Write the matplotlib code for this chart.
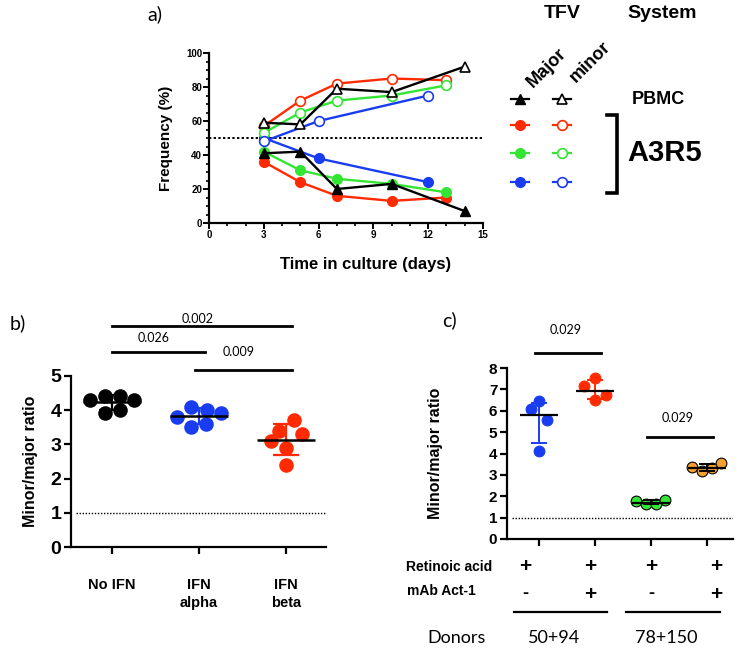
import numpy as np
import matplotlib
matplotlib.use("Agg")
import matplotlib.pyplot as plt
from matplotlib.ticker import MultipleLocator
from matplotlib.transforms import blended_transform_factory

plt.rcParams['font.family'] = ['Liberation Sans', 'DejaVu Sans']

# ---- panel a: frequency of major / minor TFV over time
days_black = [3, 5, 7, 10, 14]
black_major = [41, 42, 20, 23, 7]
black_minor = [59, 58, 79, 77, 92]
days_red = [3, 5, 7, 10, 13]
red_major = [36, 24, 16, 13, 15]
red_minor = [57, 72, 82, 85, 84]
days_green = [3, 5, 7, 10, 13]
green_major = [42, 31, 26, 23, 18]
green_minor = [53, 65, 72, 75, 81]
days_blue = [3, 6, 12]
blue_major = [50, 38, 24]
blue_minor = [48, 60, 75]

# ---- panel b: IFN treatment
ifn_groups = ["No IFN", "IFN\nalpha", "IFN\nbeta"]
no_ifn = [4.30, 4.42, 4.42, 4.30, 3.91, 4.01]
ifn_alpha = [3.81, 4.10, 4.01, 3.91, 3.50, 3.60]
ifn_beta = [3.10, 3.39, 3.71, 3.30, 2.89, 2.40]
p_b = ["0.002", "0.026", "0.009"]

# ---- panel c: retinoic acid / Act-1
c_blue = [6.07, 6.46, 5.56, 4.12]
c_red = [7.14, 7.53, 6.72, 6.48]
c_green = [1.76, 1.64, 1.64, 1.84]
c_orange = [3.35, 3.16, 3.32, 3.55]
retinoic = ["+", "+", "+", "+"]
act1 = ["-", "+", "-", "+"]
donors = ["50+94", "78+150"]
p_c = ["0.029", "0.029"]

RED = "#ff2a00"
GREEN = "#33e633"
BLUE = "#1a3cf0"
ORANGE = "#f5a030"

fig = plt.figure(figsize=(7.41, 6.48), dpi=100)
W, H = 741, 648


def px_axes(l, t, r, b):
    return fig.add_axes([l / W, 1 - b / H, (r - l) / W, (b - t) / H])


def prism_style(ax, fs):
    for s in ["top", "right"]:
        ax.spines[s].set_visible(False)
    for s in ["left", "bottom"]:
        ax.spines[s].set_linewidth(1.6)
    ax.tick_params(width=1.6, length=5, labelsize=fs)
    for lab in ax.get_yticklabels() + ax.get_xticklabels():
        lab.set_fontweight("bold")


# ================= panel a
ax_a = px_axes(209, 53, 483, 223)
series = [
    (days_red, red_major, red_minor, RED, "o"),
    (days_green, green_major, green_minor, GREEN, "o"),
    (days_blue, blue_major, blue_minor, BLUE, "o"),
    (days_black, black_major, black_minor, "black", "^"),
]
for d, maj, mi, col, mk in series:
    ax_a.plot(d, maj, color=col, lw=1.7, marker=mk, ms=7, clip_on=False, zorder=3)
for d, maj, mi, col, mk in series:
    ax_a.plot(d, mi, color=col, lw=1.7, marker=mk, ms=7, mfc="white",
              mew=1.2, clip_on=False, zorder=4)
ax_a.axhline(50, color="black", ls=(0, (1.2, 1.2)), lw=1.4, zorder=1)
ax_a.set_xlim(0, 15)
ax_a.set_ylim(0, 100)
ax_a.set_xticks([0, 3, 6, 9, 12, 15])
ax_a.set_yticks([0, 20, 40, 60, 80, 100])
ax_a.xaxis.set_minor_locator(MultipleLocator(1))
ax_a.yaxis.set_minor_locator(MultipleLocator(5))
prism_style(ax_a, 7)
ax_a.tick_params(which="major", length=4, width=1.4, pad=1)
ax_a.tick_params(which="minor", length=2.5, width=1.2)
ax_a.set_ylabel("Frequency (%)", fontsize=11, fontweight="bold", labelpad=9)
ax_a.set_xlabel("Time in culture (days)", fontsize=12, fontweight="bold", labelpad=12)
ax_a.xaxis.set_label_coords(0.57, -0.2)

# ================= panel b
ax_b = px_axes(71, 376, 326, 547)
groups_b = [no_ifn, ifn_alpha, ifn_beta]
cols_b = ["black", BLUE, RED]
offs_b = [[-0.25, -0.08, 0.09, 0.25, -0.08, 0.09],
          [-0.25, -0.09, 0.09, 0.25, -0.09, 0.08],
          [-0.17, -0.08, 0.09, 0.18, 0.0, 0.0]]
for i, (vals, col) in enumerate(zip(groups_b, cols_b)):
    ax_b.scatter(np.array(offs_b[i]) + i, vals, s=110, color=col, zorder=3, clip_on=False, lw=0)
    m = np.mean(vals)
    sd = np.std(vals, ddof=1)
    ax_b.vlines(i, m - sd, m + sd, color=col, lw=1.6, zorder=4)
    ax_b.hlines([m - sd, m + sd], i - 0.15, i + 0.15, color=col, lw=1.6, zorder=4)
    ax_b.hlines(m, i - 0.33, i + 0.33, color="black", lw=1.8, zorder=5)
ax_b.axhline(1, xmin=0.02, color="black", ls=(0, (1, 1.2)), lw=1.0)
ax_b.set_xlim(-0.47, 2.46)
ax_b.set_ylim(0, 5)
ax_b.set_xticks(range(3))
ax_b.set_xticklabels(ifn_groups, linespacing=1.4)
ax_b.set_yticks(range(6))
prism_style(ax_b, 14)
ax_b.tick_params(axis="x", labelsize=10.5, pad=17)
ax_b.tick_params(axis="y", pad=2)
ax_b.set_ylabel("Minor/major ratio", fontsize=11.5, fontweight="bold", labelpad=9)
# significance bars: (group i, group j, line y, text y)
sig_b = [(0, 2, 6.46, 6.67), (0, 1, 5.70, 6.11), (1, 2, 5.18, 5.70)]
for (i, j, ly, ty), p in zip(sig_b, p_b):
    x1 = i - 0.05 if i > 0 else i
    ax_b.plot([x1, j + 0.07], [ly, ly], color="black", lw=2, clip_on=False)
    ax_b.text((x1 + j + 0.07) / 2 - 0.05, ty, p, ha="center", va="center",
              fontsize=9, family="Lato")

# ================= panel c
ax_c = px_axes(507, 368, 733, 539)
groups_c = [c_blue, c_red, c_green, c_orange]
cols_c = [BLUE, RED, GREEN, ORANGE]
bar_c = [BLUE, RED, "black", "black"]
offs_c = [[-0.14, 0.0, 0.14, 0.0], [-0.19, 0.0, 0.2, 0.0],
          [-0.27, -0.09, 0.09, 0.25], [-0.27, -0.09, 0.09, 0.25]]
for i, (vals, col) in enumerate(zip(groups_c, cols_c)):
    edge = "black" if i >= 2 else col
    ax_c.scatter(np.array(offs_c[i]) + i, vals, s=60, color=col, edgecolor=edge,
                 lw=0.8, zorder=3, clip_on=False)
    med = np.median(vals)
    q1, q3 = np.percentile(vals, [25, 75], method="weibull")
    ax_c.vlines(i, q1, q3, color=bar_c[i], lw=1.4, zorder=4)
    ax_c.hlines([q1, q3], i - 0.14, i + 0.14, color=bar_c[i], lw=1.4, zorder=4)
    ax_c.hlines(med, i - 0.34, i + 0.34, color="black", lw=1.6, zorder=5)
ax_c.axhline(1, xmin=0.02, color="black", ls=(0, (1, 1.2)), lw=1.0)
ax_c.set_xlim(-0.57, 3.46)
ax_c.set_ylim(0, 8)
ax_c.set_xticks(range(4))
ax_c.set_xticklabels([])
ax_c.set_yticks(range(9))
prism_style(ax_c, 11)
ax_c.tick_params(axis="y", pad=2)
ax_c.set_ylabel("Minor/major ratio", fontsize=11.5, fontweight="bold", labelpad=33)
sig_c = [(0, 1, 8.72, 9.78), (2, 3, 4.75, 5.67)]
for (i, j, ly, ty), p in zip(sig_c, p_c):
    ax_c.plot([i - 0.07, j + 0.11], [ly, ly], color="black", lw=2, clip_on=False)
    ax_c.text((i + j) / 2 - 0.02, ty, p, ha="center", va="center",
              fontsize=9, family="Lato")

# ================= overlay for labels, legend and condition table
ov = fig.add_axes([0, 0, 1, 1])
ov.set_xlim(0, W)
ov.set_ylim(H, 0)
ov.axis("off")

ov.text(147, 14, "a)", fontsize=14, family="Lato", va="center")
ov.text(10, 323, "b)", fontsize=14, family="Lato", va="center")
ov.text(442, 320, "c)", fontsize=14, family="Lato", va="center")

# legend of panel a
ov.text(562, 14, "TFV", fontsize=14, fontweight="bold", ha="center", va="center")
ov.text(662, 14, "System", fontsize=14, fontweight="bold", ha="center", va="center")
ov.text(547, 68, "Major", fontsize=13, fontweight="bold", rotation=45,
        ha="center", va="center", rotation_mode="anchor")
ov.text(590, 62, "minor", fontsize=13, fontweight="bold", rotation=45,
        ha="center", va="center", rotation_mode="anchor")
leg_rows = [("black", "^", 99), (RED, "o", 125), (GREEN, "o", 153), (BLUE, "o", 182)]
for col, mk, y in leg_rows:
    ov.plot([511, 529], [y, y], color=col, lw=1.6, marker=None)
    ov.plot([520], [y], color=col, marker=mk, ms=7)
    ov.plot([553, 571], [y, y], color=col, lw=1.6)
    ov.plot([562], [y], color=col, marker=mk, ms=7, mfc="white", mew=1.2)
ov.text(658, 99, "PBMC", fontsize=13, fontweight="bold", ha="center", va="center")
ov.plot([607, 617, 617, 607], [115, 115, 193, 193], color="black", lw=2.6,
        solid_joinstyle="miter")
ov.text(665, 153, "A3R5", fontsize=21, fontweight="bold", ha="center", va="center")

# condition table of panel c
tr = blended_transform_factory(ax_c.transData, ov.transData)
ov.text(406, 567, "Retinoic acid", fontsize=10, fontweight="bold", va="center")
ov.text(407, 591, "mAb Act-1", fontsize=10, fontweight="bold", va="center")
nudge = [-0.24, -0.08, 0.0, 0.17]
for i, (r, a) in enumerate(zip(retinoic, act1)):
    ov.text(i + nudge[i], 566, r, transform=tr, fontsize=15, fontweight="bold",
            ha="center", va="center")
    ov.text(i + nudge[i], 594, a, transform=tr, fontsize=15 if a == "+" else 13,
            fontweight="bold", ha="center", va="center")
for k, d in enumerate(donors):
    i = 2 * k
    ov.plot([i - 0.45, i + 1.22], [612, 612], transform=tr, color="black", lw=1.6)
    ov.text(i + 0.27, 638, d, transform=tr, fontsize=13, family="Lato",
            ha="center", va="center")
ov.text(427, 638, "Donors", fontsize=13, family="Lato", va="center")

fig.savefig("out.png", dpi=100)
